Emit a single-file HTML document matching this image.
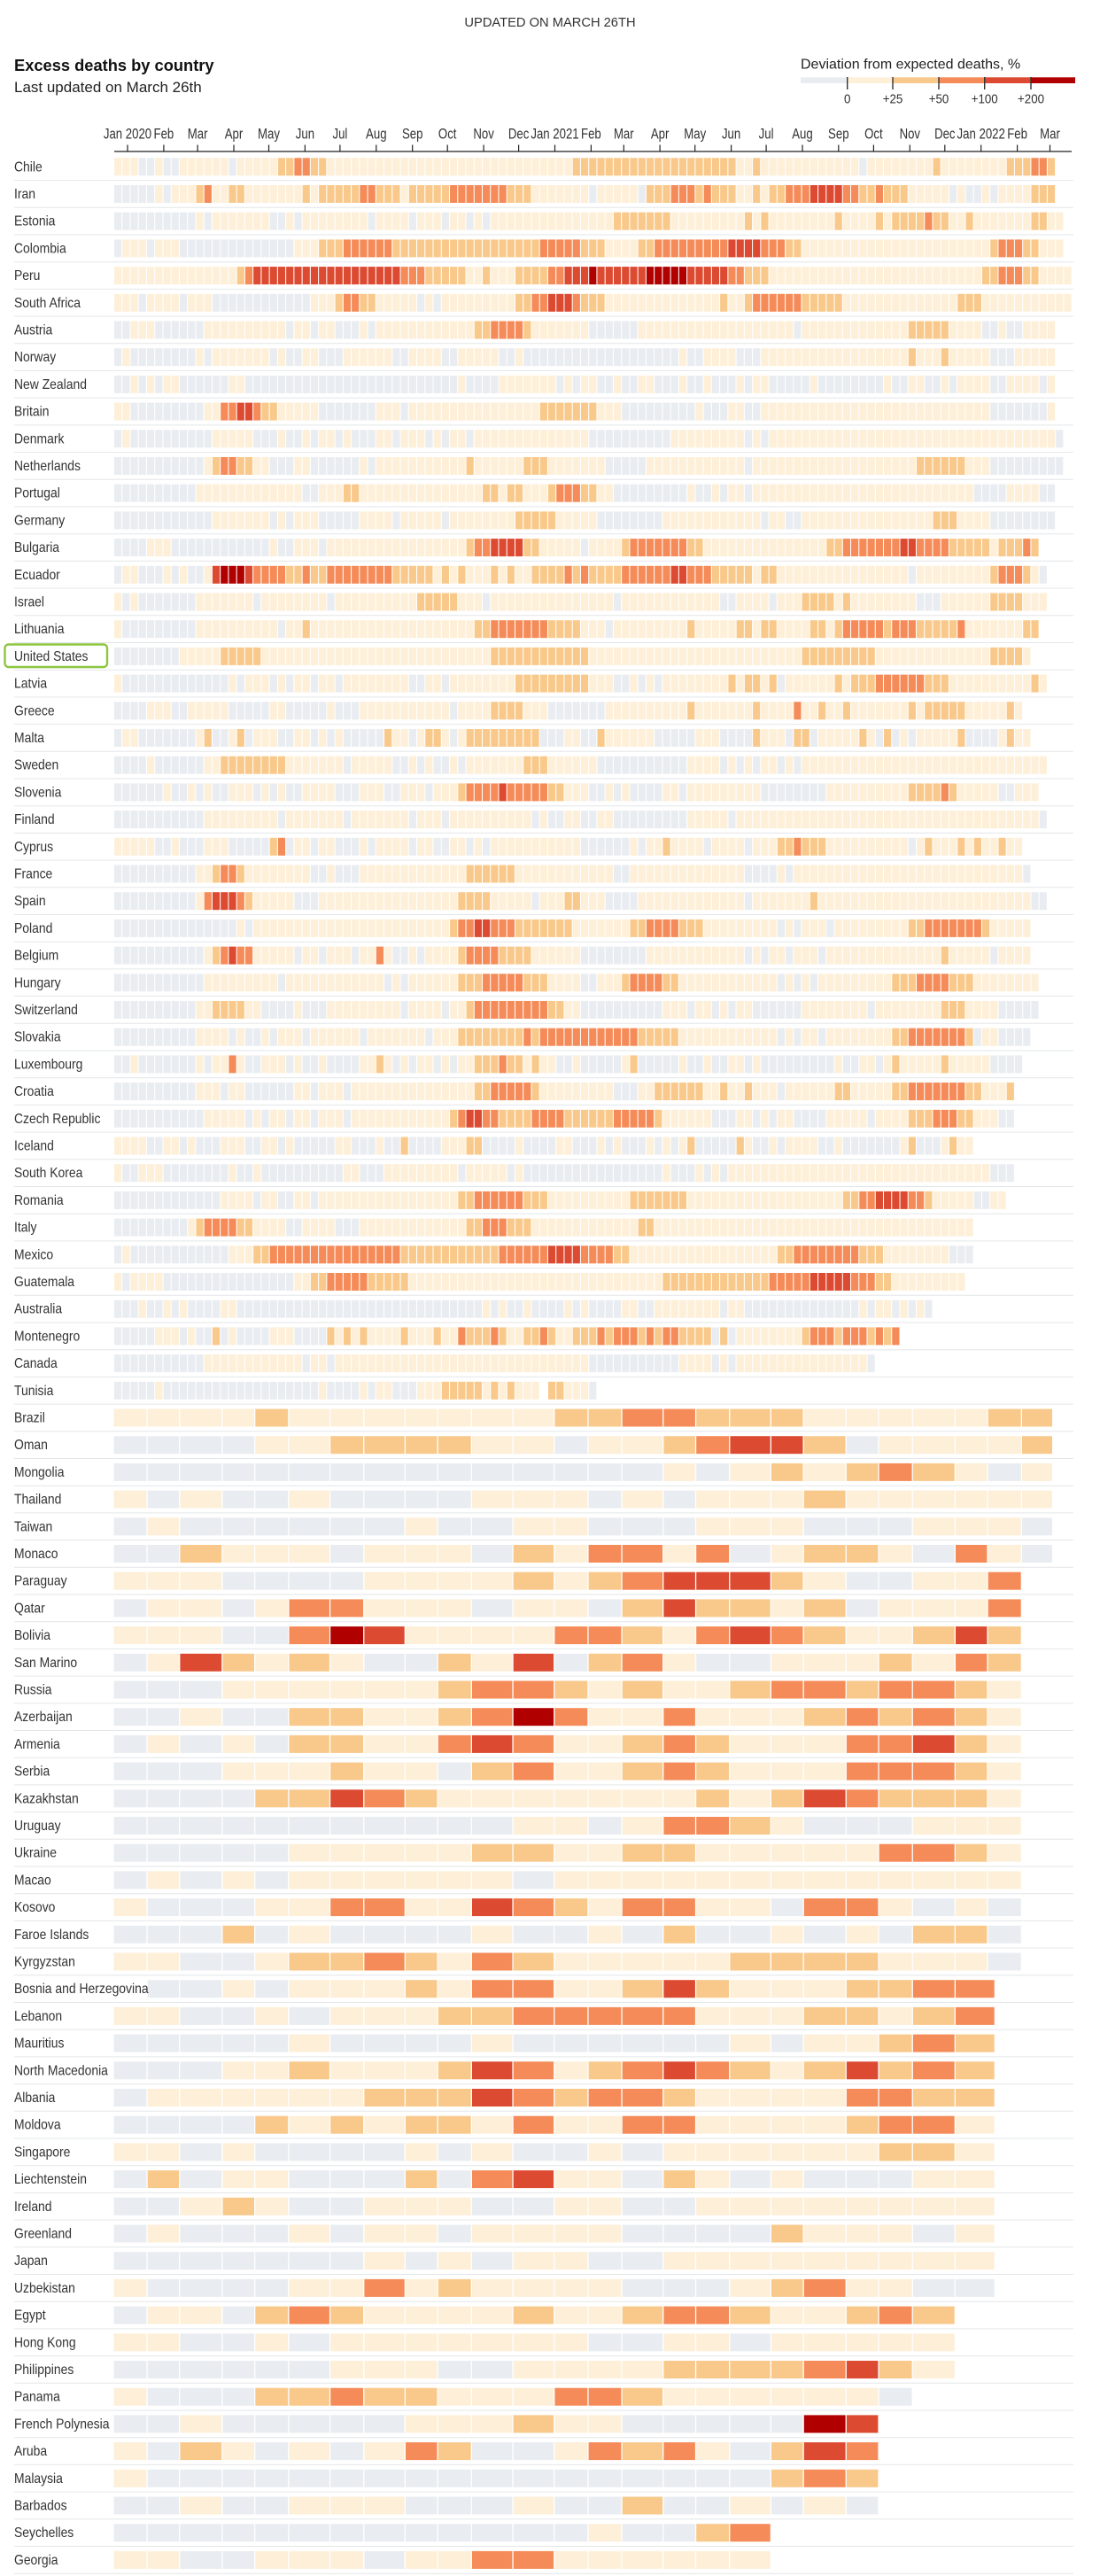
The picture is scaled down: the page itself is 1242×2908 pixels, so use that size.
<!DOCTYPE html>
<html>
<head>
<meta charset="utf-8">
<style>
html,body{margin:0;padding:0;background:#ffffff;}
body{width:1242px;height:2908px;overflow:hidden;}
svg{display:block;font-family:"Liberation Sans",Arial,sans-serif;}
</style>
</head>
<body>
<svg id="chart" width="1242" height="2908" viewBox="0 0 1242 2908" xmlns="http://www.w3.org/2000/svg">
  <rect x="0" y="0" width="1242" height="2908" fill="#ffffff"/>
  <!-- header -->
  <text x="621" y="30" text-anchor="middle" font-size="14.7" fill="#333">UPDATED ON MARCH 26TH</text>
  <text x="16" y="80" font-size="18.3" font-weight="bold" fill="#111">Excess deaths by country</text>
  <text x="16" y="104" font-size="17" fill="#222">Last updated on March 26th</text>

  <!-- legend -->
  <text x="904" y="77.3" font-size="16" fill="#222">Deviation from expected deaths, %</text>
  <rect x="904" y="87.3" width="52.7" height="6.7" fill="#e9edf1"/>
  <rect x="956.7" y="87.3" width="51.3" height="6.7" fill="#feefd8"/>
  <rect x="1008" y="87.3" width="52" height="6.7" fill="#f9c98b"/>
  <rect x="1060" y="87.3" width="51.7" height="6.7" fill="#f58b58"/>
  <rect x="1111.7" y="87.3" width="52.3" height="6.7" fill="#dc4a31"/>
  <rect x="1164" y="87.3" width="50" height="6.7" fill="#b00000"/>
  <g stroke="#333" stroke-width="1.4">
    <line x1="956.7" y1="87" x2="956.7" y2="101"/>
    <line x1="1008" y1="87" x2="1008" y2="101"/>
    <line x1="1060" y1="87" x2="1060" y2="101"/>
    <line x1="1111.7" y1="87" x2="1111.7" y2="101"/>
    <line x1="1164" y1="87" x2="1164" y2="101"/>
  </g>
  <g font-size="14.5" fill="#333" text-anchor="middle">
    <text transform="translate(956.7,116.7) scale(0.92,1)">0</text>
    <text transform="translate(1008,116.7) scale(0.92,1)">+25</text>
    <text transform="translate(1060,116.7) scale(0.92,1)">+50</text>
    <text transform="translate(1111.7,116.7) scale(0.92,1)">+100</text>
    <text transform="translate(1164,116.7) scale(0.92,1)">+200</text>
  </g>

  <!-- axis -->
  <line x1="129" y1="171" x2="1210" y2="171" stroke="#222" stroke-width="1.3"/>
  <g stroke="#222" stroke-width="1.2">
    <line x1="144" y1="163.5" x2="144" y2="171"/>
    <line x1="184.9" y1="163.5" x2="184.9" y2="171"/>
    <line x1="223.1" y1="163.5" x2="223.1" y2="171"/>
    <line x1="264" y1="163.5" x2="264" y2="171"/>
    <line x1="303.5" y1="163.5" x2="303.5" y2="171"/>
    <line x1="344.4" y1="163.5" x2="344.4" y2="171"/>
    <line x1="383.9" y1="163.5" x2="383.9" y2="171"/>
    <line x1="424.8" y1="163.5" x2="424.8" y2="171"/>
    <line x1="465.7" y1="163.5" x2="465.7" y2="171"/>
    <line x1="505.2" y1="163.5" x2="505.2" y2="171"/>
    <line x1="546.1" y1="163.5" x2="546.1" y2="171"/>
    <line x1="585.6" y1="163.5" x2="585.6" y2="171"/>
    <line x1="626.5" y1="163.5" x2="626.5" y2="171"/>
    <line x1="667.4" y1="163.5" x2="667.4" y2="171"/>
    <line x1="704.3" y1="163.5" x2="704.3" y2="171"/>
    <line x1="745.1" y1="163.5" x2="745.1" y2="171"/>
    <line x1="784.7" y1="163.5" x2="784.7" y2="171"/>
    <line x1="825.6" y1="163.5" x2="825.6" y2="171"/>
    <line x1="865.1" y1="163.5" x2="865.1" y2="171"/>
    <line x1="906" y1="163.5" x2="906" y2="171"/>
    <line x1="946.8" y1="163.5" x2="946.8" y2="171"/>
    <line x1="986.4" y1="163.5" x2="986.4" y2="171"/>
    <line x1="1027.3" y1="163.5" x2="1027.3" y2="171"/>
    <line x1="1066.8" y1="163.5" x2="1066.8" y2="171"/>
    <line x1="1107.7" y1="163.5" x2="1107.7" y2="171"/>
    <line x1="1148.6" y1="163.5" x2="1148.6" y2="171"/>
    <line x1="1185.5" y1="163.5" x2="1185.5" y2="171"/>
  </g>
  <g font-size="16.5" fill="#333" text-anchor="middle">
    <text transform="translate(144,156.7) scale(0.8,1)">Jan 2020</text>
    <text transform="translate(184.9,156.7) scale(0.8,1)">Feb</text>
    <text transform="translate(223.1,156.7) scale(0.8,1)">Mar</text>
    <text transform="translate(264,156.7) scale(0.8,1)">Apr</text>
    <text transform="translate(303.5,156.7) scale(0.8,1)">May</text>
    <text transform="translate(344.4,156.7) scale(0.8,1)">Jun</text>
    <text transform="translate(383.9,156.7) scale(0.8,1)">Jul</text>
    <text transform="translate(424.8,156.7) scale(0.8,1)">Aug</text>
    <text transform="translate(465.7,156.7) scale(0.8,1)">Sep</text>
    <text transform="translate(505.2,156.7) scale(0.8,1)">Oct</text>
    <text transform="translate(546.1,156.7) scale(0.8,1)">Nov</text>
    <text transform="translate(585.6,156.7) scale(0.8,1)">Dec</text>
    <text transform="translate(626.5,156.7) scale(0.8,1)">Jan 2021</text>
    <text transform="translate(667.4,156.7) scale(0.8,1)">Feb</text>
    <text transform="translate(704.3,156.7) scale(0.8,1)">Mar</text>
    <text transform="translate(745.1,156.7) scale(0.8,1)">Apr</text>
    <text transform="translate(784.7,156.7) scale(0.8,1)">May</text>
    <text transform="translate(825.6,156.7) scale(0.8,1)">Jun</text>
    <text transform="translate(865.1,156.7) scale(0.8,1)">Jul</text>
    <text transform="translate(906,156.7) scale(0.8,1)">Aug</text>
    <text transform="translate(946.8,156.7) scale(0.8,1)">Sep</text>
    <text transform="translate(986.4,156.7) scale(0.8,1)">Oct</text>
    <text transform="translate(1027.3,156.7) scale(0.8,1)">Nov</text>
    <text transform="translate(1066.8,156.7) scale(0.8,1)">Dec</text>
    <text transform="translate(1107.7,156.7) scale(0.8,1)">Jan 2022</text>
    <text transform="translate(1148.6,156.7) scale(0.8,1)">Feb</text>
    <text transform="translate(1185.5,156.7) scale(0.8,1)">Mar</text>
  </g>

  <g id="seps"></g>
  <g id="cells"></g>

  <!-- row labels -->
  <g transform="translate(16,193.3) scale(0.87,1)" font-size="16" fill="#333">
    <text x="0" y="0">
      <tspan x="0" dy="0">Chile</tspan>
      <tspan x="0" dy="30.7">Iran</tspan>
      <tspan x="0" dy="30.7">Estonia</tspan>
      <tspan x="0" dy="30.7">Colombia</tspan>
      <tspan x="0" dy="30.7">Peru</tspan>
      <tspan x="0" dy="30.7">South Africa</tspan>
      <tspan x="0" dy="30.7">Austria</tspan>
      <tspan x="0" dy="30.7">Norway</tspan>
      <tspan x="0" dy="30.7">New Zealand</tspan>
      <tspan x="0" dy="30.7">Britain</tspan>
      <tspan x="0" dy="30.7">Denmark</tspan>
      <tspan x="0" dy="30.7">Netherlands</tspan>
      <tspan x="0" dy="30.7">Portugal</tspan>
      <tspan x="0" dy="30.7">Germany</tspan>
      <tspan x="0" dy="30.7">Bulgaria</tspan>
      <tspan x="0" dy="30.7">Ecuador</tspan>
      <tspan x="0" dy="30.7">Israel</tspan>
      <tspan x="0" dy="30.7">Lithuania</tspan>
      <tspan x="0" dy="30.7">United States</tspan>
      <tspan x="0" dy="30.7">Latvia</tspan>
      <tspan x="0" dy="30.7">Greece</tspan>
      <tspan x="0" dy="30.7">Malta</tspan>
      <tspan x="0" dy="30.7">Sweden</tspan>
      <tspan x="0" dy="30.7">Slovenia</tspan>
      <tspan x="0" dy="30.7">Finland</tspan>
      <tspan x="0" dy="30.7">Cyprus</tspan>
      <tspan x="0" dy="30.7">France</tspan>
      <tspan x="0" dy="30.7">Spain</tspan>
      <tspan x="0" dy="30.7">Poland</tspan>
      <tspan x="0" dy="30.7">Belgium</tspan>
      <tspan x="0" dy="30.7">Hungary</tspan>
      <tspan x="0" dy="30.7">Switzerland</tspan>
      <tspan x="0" dy="30.7">Slovakia</tspan>
      <tspan x="0" dy="30.7">Luxembourg</tspan>
      <tspan x="0" dy="30.7">Croatia</tspan>
      <tspan x="0" dy="30.7">Czech Republic</tspan>
      <tspan x="0" dy="30.7">Iceland</tspan>
      <tspan x="0" dy="30.7">South Korea</tspan>
      <tspan x="0" dy="30.7">Romania</tspan>
      <tspan x="0" dy="30.7">Italy</tspan>
      <tspan x="0" dy="30.7">Mexico</tspan>
      <tspan x="0" dy="30.7">Guatemala</tspan>
      <tspan x="0" dy="30.7">Australia</tspan>
      <tspan x="0" dy="30.7">Montenegro</tspan>
      <tspan x="0" dy="30.7">Canada</tspan>
      <tspan x="0" dy="30.7">Tunisia</tspan>
      <tspan x="0" dy="30.7">Brazil</tspan>
      <tspan x="0" dy="30.7">Oman</tspan>
      <tspan x="0" dy="30.7">Mongolia</tspan>
      <tspan x="0" dy="30.7">Thailand</tspan>
      <tspan x="0" dy="30.7">Taiwan</tspan>
      <tspan x="0" dy="30.7">Monaco</tspan>
      <tspan x="0" dy="30.7">Paraguay</tspan>
      <tspan x="0" dy="30.7">Qatar</tspan>
      <tspan x="0" dy="30.7">Bolivia</tspan>
      <tspan x="0" dy="30.7">San Marino</tspan>
      <tspan x="0" dy="30.7">Russia</tspan>
      <tspan x="0" dy="30.7">Azerbaijan</tspan>
      <tspan x="0" dy="30.7">Armenia</tspan>
      <tspan x="0" dy="30.7">Serbia</tspan>
      <tspan x="0" dy="30.7">Kazakhstan</tspan>
      <tspan x="0" dy="30.7">Uruguay</tspan>
      <tspan x="0" dy="30.7">Ukraine</tspan>
      <tspan x="0" dy="30.7">Macao</tspan>
      <tspan x="0" dy="30.7">Kosovo</tspan>
      <tspan x="0" dy="30.7">Faroe Islands</tspan>
      <tspan x="0" dy="30.7">Kyrgyzstan</tspan>
      <tspan x="0" dy="30.7">Bosnia and Herzegovina</tspan>
      <tspan x="0" dy="30.7">Lebanon</tspan>
      <tspan x="0" dy="30.7">Mauritius</tspan>
      <tspan x="0" dy="30.7">North Macedonia</tspan>
      <tspan x="0" dy="30.7">Albania</tspan>
      <tspan x="0" dy="30.7">Moldova</tspan>
      <tspan x="0" dy="30.7">Singapore</tspan>
      <tspan x="0" dy="30.7">Liechtenstein</tspan>
      <tspan x="0" dy="30.7">Ireland</tspan>
      <tspan x="0" dy="30.7">Greenland</tspan>
      <tspan x="0" dy="30.7">Japan</tspan>
      <tspan x="0" dy="30.7">Uzbekistan</tspan>
      <tspan x="0" dy="30.7">Egypt</tspan>
      <tspan x="0" dy="30.7">Hong Kong</tspan>
      <tspan x="0" dy="30.7">Philippines</tspan>
      <tspan x="0" dy="30.7">Panama</tspan>
      <tspan x="0" dy="30.7">French Polynesia</tspan>
      <tspan x="0" dy="30.7">Aruba</tspan>
      <tspan x="0" dy="30.7">Malaysia</tspan>
      <tspan x="0" dy="30.7">Barbados</tspan>
      <tspan x="0" dy="30.7">Seychelles</tspan>
      <tspan x="0" dy="30.7">Georgia</tspan>
    </text>
  </g>

  <!-- US highlight -->
  <rect x="5.5" y="727.5" width="115.5" height="25.5" rx="4" ry="4" fill="none" stroke="#8cc63f" stroke-width="2.4"/>
</svg>

<script>
(function(){
  var NS = "http://www.w3.org/2000/svg";
  var cols = ['#e9edf1','#feefd8','#f9c98b','#f58b58','#dc4a31','#b00000'];
  var top0 = 178.3, pitch = 30.7, H = 20, WP = 9.245;

  var W = [
"0:1 3:0 5:1 6:0 8:1 14:0 15:1 20:2 22:3 24:2 26:1 56:2 76:1 78:2 79:1 91:0 92:1 100:2 101:1 109:2 112:3 114:2|115",
"0:0 5:1 6:0 7:1 10:2 11:3 12:1 14:2 16:1 23:2 24:1 25:2 30:3 32:2 35:1 36:2 41:3 48:2 51:1 58:0 59:1 64:0 65:2 68:3 71:2 72:3 73:2 76:1 78:2 79:1 80:2 82:3 85:4 89:3 91:2 93:3 94:2 97:1 102:0 103:1 104:0 106:1 107:0 108:1 112:2|115",
"0:0 10:1 11:0 12:1 19:0 21:1 22:0 23:1 31:0 32:1 36:0 37:1 40:0 41:1 43:0 44:1 45:0 46:1 61:2 68:1 77:2 78:1 79:2 80:1 88:2 89:1 93:2 94:1 95:2 99:3 100:2 102:1 104:2 105:1 112:2 114:1|116",
"0:0 1:1 4:0 5:1 8:0 22:1 25:2 28:3 34:2 52:3 57:2 60:1 64:2 66:3 75:4 79:3 82:2 84:1 107:2 108:3 111:2 113:1|116",
"0:1 15:2 16:3 17:4 35:3 38:2 43:1 45:2 46:1 49:2 53:3 55:4 58:5 59:4 65:5 70:4 75:3 77:2 80:1 106:2 108:3 111:2 113:1|117",
"0:1 3:0 4:1 8:0 9:1 12:0 24:1 27:2 28:3 30:2 32:1 37:0 38:1 39:0 40:1 49:2 51:3 53:4 56:3 57:2 60:1 74:2 75:1 77:2 78:3 84:2 89:1 103:2 106:1|117",
"0:0 2:1 5:0 11:1 21:0 22:1 24:0 25:1 27:0 30:1 31:0 32:1 44:2 46:3 50:2 51:1 58:0 64:1 83:0 84:1 97:2 102:1 106:0 108:1 109:0 111:1|115",
"0:0 1:1 2:0 10:1 11:0 12:1 19:0 20:1 21:0 23:1 25:0 28:1 34:0 36:1 40:0 42:1 47:0 49:1 50:0 69:1 70:0 72:1 76:0 79:1 97:2 98:1 101:2 102:1 107:0 110:1|115",
"0:0 2:1 3:0 4:1 5:0 6:1 8:0 14:1 16:0 42:1 43:0 47:1 54:0 55:1 56:0 57:1 59:0 61:1 62:0 64:1 66:0 69:1 70:0 72:1 73:0 76:1 77:0 78:1 80:0 85:1 86:0 94:1 95:0 97:1 99:0 101:1 102:0 103:1 107:0 109:1 113:0 114:1|115",
"0:1 2:0 11:1 13:3 15:4 17:3 18:2 20:1 25:0 32:1 35:0 36:1 52:2 59:1 62:0 71:1 72:0 75:1 77:0 79:1 107:0 114:1|115",
"0:0 1:1 2:0 12:1 17:0 20:1 21:0 23:1 24:0 25:1 27:0 28:1 29:0 32:1 34:0 35:1 38:0 39:1 40:0 41:1 43:0 44:1 58:0 68:1 77:0 78:1 79:0 80:1 115:0|116",
"0:0 11:1 12:2 13:3 15:2 17:1 19:0 22:1 24:0 30:1 31:0 32:1 43:2 44:1 50:2 53:1 60:0 65:1 77:0 78:1 98:2 104:1 107:0|116",
"0:0 10:1 23:0 25:1 28:2 30:1 45:2 47:1 48:2 50:1 53:2 54:3 57:2 59:1 61:0 70:1 71:0 73:1 74:0 75:1 77:0 78:1 105:0 109:1 113:0|115",
"0:0 12:1 19:0 20:1 21:0 22:1 25:0 30:1 34:0 35:1 40:0 41:1 49:2 54:1 59:0 67:1 79:0 80:1 82:0 84:1 100:2 103:1 107:0|115",
"0:0 4:1 7:0 19:1 20:0 22:1 25:0 26:1 43:2 44:3 46:4 50:2 52:1 57:0 58:1 62:2 63:3 70:2 72:1 87:2 89:3 96:4 98:3 102:2 107:1 108:2 111:3 112:2|113",
"0:0 1:1 3:0 6:1 7:0 8:1 9:0 11:1 12:4 13:5 16:4 17:3 21:2 23:3 24:2 26:3 34:2 39:1 40:2 41:1 42:2 43:1 46:2 47:1 48:2 49:1 51:2 55:3 56:2 57:3 58:2 62:3 68:4 70:3 73:2 78:1 79:2 81:1 97:0 98:1 107:2 108:3 111:2 112:1 113:0|114",
"0:1 1:0 2:1 3:0 10:1 17:0 18:1 26:0 27:1 37:2 42:1 45:0 46:1 61:0 62:1 74:0 76:1 80:0 81:1 84:2 88:1 89:2 90:1 98:0 101:1 107:2 111:1|114",
"0:1 1:0 10:1 20:0 21:1 23:2 24:1 44:2 46:3 53:2 57:1 60:0 61:1 70:2 71:1 76:2 78:1 79:2 81:1 85:2 87:1 88:2 89:3 94:2 95:3 98:2 103:3 104:1 111:2|113",
"0:0 8:1 13:2 18:1 46:2 58:1 84:2 93:1 107:2 111:1|112",
"0:1 1:0 14:1 15:0 16:1 19:0 20:1 21:0 22:1 24:0 25:1 27:0 28:1 36:0 38:1 40:0 41:1 49:2 58:1 61:0 63:1 64:0 65:1 66:0 67:1 75:2 76:1 77:2 79:1 80:2 81:0 82:1 88:2 89:1 90:2 93:3 99:2 102:1 112:2 113:1|114",
"0:0 4:1 7:0 9:1 14:0 19:1 21:0 26:1 27:0 30:1 41:0 42:1 46:2 50:1 53:0 60:1 70:2 71:1 78:2 79:1 83:3 84:1 86:2 87:1 89:2 90:1 97:2 98:1 99:2 104:1 109:2 110:1|111",
"0:0 1:1 3:0 10:1 11:2 12:0 14:1 15:2 16:0 17:1 20:0 22:1 24:0 25:1 26:0 27:1 28:0 33:2 34:1 36:0 37:1 38:2 40:1 41:0 42:1 43:2 52:0 55:1 57:0 59:2 60:1 66:0 71:1 74:0 78:2 79:1 82:0 83:2 85:0 86:1 91:2 92:1 93:0 94:2 95:0 96:1 97:0 98:1 103:2 104:0 108:1 109:2 110:1|112",
"0:0 4:1 5:0 11:1 13:2 21:1 28:0 29:1 34:0 36:1 37:0 38:1 39:0 41:1 42:0 43:1 50:2 53:1 59:0 70:1 74:0 75:1 76:0 77:1 78:0 79:1 81:0 82:1 83:0 84:1|114",
"0:0 6:1 7:0 9:1 10:0 11:1 12:0 14:1 17:0 18:1 19:0 20:1 21:0 23:1 27:0 30:1 33:0 35:1 38:0 39:1 42:2 43:3 47:4 48:3 53:2 55:1 58:0 60:1 61:0 62:1 63:0 67:1 69:0 70:1 79:0 87:1 97:2 101:3 102:2 103:1 108:0 110:1|113",
"0:0 11:1 20:0 21:1 28:0 29:1 36:0 37:1 40:0 41:1 51:0 52:1 53:0 55:1 57:0 59:1 61:0 70:1 75:0 76:1 113:0|114",
"0:1 5:0 7:1 8:0 11:1 14:0 19:2 20:3 21:0 22:1 24:0 25:1 27:0 30:1 31:0 32:1 36:0 37:1 39:0 41:1 43:0 44:1 45:0 46:1 57:0 63:1 64:0 65:1 67:2 68:1 72:0 73:1 77:0 78:1 81:2 83:3 84:2 87:1 97:0 98:1 99:2 100:1 103:2 104:1 105:2 106:1 108:2 109:1|111",
"0:0 10:1 12:2 13:3 15:2 16:1 24:0 26:1 27:0 30:1 43:2 49:1 61:0 63:1 77:0 81:1 82:0 83:1 111:0|112",
"0:0 10:1 11:3 12:4 15:3 16:2 17:1 22:0 25:1 42:2 46:1 51:0 52:1 55:2 57:1 60:0 64:1 77:0 78:1 85:2 86:1 112:0|114",
"0:0 15:1 16:0 17:1 41:2 42:3 44:4 46:3 49:2 56:1 63:2 65:3 69:2 72:1 81:0 82:1 83:0 84:1 87:0 88:1 97:2 99:3 106:2 107:1|112",
"0:0 11:1 12:2 13:3 14:4 15:3 17:1 22:0 23:1 25:0 26:1 29:0 30:1 32:3 33:1 34:0 36:1 37:0 38:1 42:2 43:3 47:2 51:1 57:0 65:1 77:0 78:1 79:0 80:1 82:0 83:1 86:0 87:1 101:2 102:1 107:0 108:1|112",
"0:0 11:1 20:0 21:1 33:0 34:1 35:0 36:1 42:2 45:3 50:2 53:1 57:0 59:1 62:2 63:3 67:2 69:1 81:0 82:1 83:0 84:1 85:0 86:1 95:2 98:3 102:2 105:1|113",
"0:0 10:1 12:2 16:1 18:0 22:1 23:0 26:1 35:0 36:1 40:0 41:1 43:2 44:3 53:2 55:1 57:0 67:1 70:0 71:1 73:0 74:1 75:0 76:1 78:0 84:1 92:0 93:1 101:2 104:1 108:0|113",
"0:0 10:1 14:0 15:1 16:0 18:1 19:0 20:1 23:0 24:1 30:0 31:1 38:0 39:1 42:2 50:3 51:2 52:3 64:2 69:1 81:0 82:1 83:0 84:1 86:0 87:1 95:2 97:3 104:2 105:0 106:1 108:0|112",
"0:0 2:1 3:0 10:1 11:0 12:1 14:3 15:1 16:0 18:1 21:0 22:1 23:0 25:1 26:0 30:1 32:2 33:1 34:0 35:1 36:0 37:1 39:0 40:1 41:0 42:1 44:2 47:3 48:2 50:1 51:2 52:1 54:0 56:1 57:0 62:1 63:2 64:0 69:1 70:0 72:1 73:0 75:1 77:0 78:1 79:0 88:1 89:0 91:1 93:0 94:1 95:2 96:1 101:2 102:1 107:0|111",
"0:0 10:1 13:0 14:1 16:0 22:1 24:0 25:1 28:0 29:1 44:2 46:3 51:2 52:1 61:0 64:1 66:2 72:1 74:2 75:1 77:2 78:1 81:0 82:1 88:2 90:1 95:2 97:3 104:2 106:1 109:2|110",
"0:0 11:1 16:0 17:1 18:0 19:1 21:0 22:1 24:0 25:1 28:0 29:1 41:2 42:3 43:4 45:3 47:2 51:3 55:2 61:3 66:2 67:1 73:0 76:1 78:0 79:1 80:0 81:1 83:0 87:1 92:0 93:1 97:2 100:3 103:2 105:1 108:0|110",
"0:1 4:0 6:1 8:0 9:1 10:0 13:1 16:0 18:1 20:0 21:1 22:0 27:1 29:0 32:1 33:0 35:2 36:0 40:1 43:2 45:0 49:1 50:0 54:1 56:0 59:1 60:0 61:1 62:0 65:1 66:0 67:1 68:0 69:1 70:2 71:0 76:2 77:1 78:0 80:1 81:0 82:1 86:0 88:1 89:0 96:1 97:2 98:0 101:1 102:2 103:1|105",
"0:1 1:0 3:1 6:0 14:1 15:0 17:1 18:0 28:1 30:0 33:1 42:0 43:1 48:0 49:1 50:0 67:1 68:0 71:1 72:0 73:1 74:0 75:1 107:0|110",
"0:0 13:1 17:0 18:1 20:0 22:1 24:0 25:1 42:2 44:3 50:2 53:1 63:2 70:1 89:2 91:3 93:4 97:3 99:2 100:1 105:0 107:1|109",
"0:0 9:1 10:2 11:3 15:2 17:1 21:0 23:1 27:0 30:1 43:2 45:3 48:2 51:1 64:2 66:1|105",
"0:0 1:1 2:0 14:1 17:2 19:3 35:2 47:3 53:4 57:3 61:2 63:1 81:2 83:3 91:2 94:1 102:0|105",
"0:1 1:0 2:1 6:0 22:1 24:2 26:3 31:2 36:1 67:2 80:3 85:4 90:3 93:2 95:1|104",
"0:0 3:1 4:0 6:1 7:0 8:1 9:0 13:1 15:0 45:1 46:0 47:1 48:0 50:1 51:0 55:1 56:0 57:1 58:0 62:1 64:0 66:1 74:0 75:1 77:0 91:1 92:0 93:1 95:0 96:1 97:0 98:1 99:0|100",
"0:0 5:1 8:0 9:1 10:0 12:2 13:0 14:1 15:0 19:1 22:0 26:2 27:1 28:2 29:1 30:2 31:1 35:2 36:1 39:2 40:1 42:3 43:2 46:3 47:2 48:1 50:2 52:3 53:2 54:1 56:2 59:3 60:2 61:3 64:2 65:3 66:2 67:3 69:2 73:0 74:2 75:0 76:1 84:2 85:3 88:2 89:3 92:2 93:3 94:2 95:3|96",
"0:0 11:1 23:0 24:1 26:0 27:1 58:0 69:1 73:0 74:1 75:0 76:1 92:0|93",
"0:0 5:1 6:0 25:1 26:0 30:1 31:0 32:1 34:0 37:1 40:2 45:1 46:2 47:1 48:2 49:1 52:9 53:2 55:1 58:0|59"
  ];

  var M = [
"11112111111122332221111122",
"00001122221101123442011112",
"00000000000000010121232101",
"10100100001110101112111111",
"01000000100110001110001110",
"00211101110213313012210310",
"1110000111121234442100113",
"0110133111011024221201113",
"1110035411113321343211242",
"0142121002140231001112132",
"0001111112332121123323321",
"0010022112353113111232321",
"0101022113431123211133421",
"0001112110231123211133321",
"0000224321111111212432221",
"0000000000011013321000111",
"0000011111221122111113321",
"0101011111101111111111111",
"1000113311432133110331010",
"0002010000100102001010220",
"1100122321321111122221110",
"900101112133112421112233",
"110010111223333311122123",
"000001000010000001011232",
"000112111243123432124232",
"011111122243233211113322",
"000021212213113311112331",
"110100001010010111111221",
"020110002034110210100011",
"001210011100110011111111",
"010001011011110000211101",
"000000010101100111111111",
"100001131211110001231100",
"01102321111211233211232",
"11001011111110011011111",
"00000011100111122223421",
"1000223221113321111110",
"001000001112110000054",
"102101013200132310243",
"100000000000000000232",
"001001110001002001010",
"000000000000010023",
"110011101133111111"
  ];

  var A = [128.5,166.7,203.4,251.5,288.3,326.5,373.2,411.4,458.0,494.8,533.0,579.7,626.4,664.6,702.7,749.4,786.2,824.4,871.0,907.8,955.9,992.7,1030.9,1079.0,1115.7,1154.0,1189.3];

  var cellsG = document.getElementById('cells');
  var sepG = document.getElementById('seps');
  var frag = document.createDocumentFragment();

  function rect(x, y, w, h, fill) {
    var r = document.createElementNS(NS, 'rect');
    r.setAttribute('x', x.toFixed(2));
    r.setAttribute('y', y.toFixed(2));
    r.setAttribute('width', w.toFixed(2));
    r.setAttribute('height', h);
    r.setAttribute('fill', fill);
    frag.appendChild(r);
  }

  for (var r = 0; r < W.length; r++) {
    var parts = W[r].split('|');
    var end = parseInt(parts[1], 10);
    var toks = parts[0].trim().split(/\s+/);
    var pts = [];
    for (var t = 0; t < toks.length; t++) {
      var ab = toks[t].split(':');
      pts.push([parseInt(ab[0], 10), parseInt(ab[1], 10)]);
    }
    var y = top0 + r * pitch;
    for (var p = 0; p < pts.length; p++) {
      var st = pts[p][0], lv = pts[p][1];
      var en = (p + 1 < pts.length) ? pts[p + 1][0] : end;
      if (lv === 9) continue;
      for (var i = st; i < en; i++) {
        rect(129 + i * WP, y, 8.2, H, cols[lv]);
      }
    }
  }

  for (var m = 0; m < M.length; m++) {
    var row = 46 + m;
    var s = M[m];
    var y2 = top0 + row * pitch;
    for (var k = 0; k < s.length; k++) {
      var lv2 = parseInt(s.charAt(k), 10);
      if (lv2 === 9) continue;
      var x0 = A[k];
      var x1 = A[k + 1];
      if (s.length === 24 && k === 23) x1 = 1124;
      rect(x0, y2, (x1 - x0) - 1.3, H, cols[lv2]);
    }
  }
  cellsG.appendChild(frag);

  var f2 = document.createDocumentFragment();
  for (var q = 0; q < 89; q++) {
    var ly = top0 + q * pitch + 25.3;
    var l = document.createElementNS(NS, 'line');
    l.setAttribute('x1', '16');
    l.setAttribute('x2', '1212');
    l.setAttribute('y1', ly.toFixed(2));
    l.setAttribute('y2', ly.toFixed(2));
    l.setAttribute('stroke', '#e3e6e9');
    l.setAttribute('stroke-width', '1');
    f2.appendChild(l);
  }
  sepG.appendChild(f2);
})();
</script>
</body>
</html>
